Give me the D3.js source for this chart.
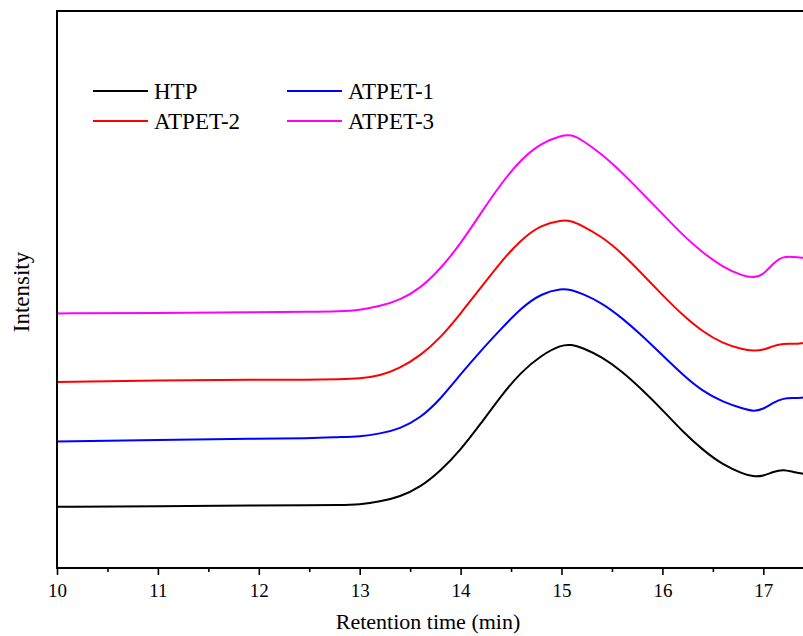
<!DOCTYPE html>
<html>
<head>
<meta charset="utf-8">
<script src="https://cdn.jsdelivr.net/npm/d3@7"></script>
<style>
  html, body { margin: 0; padding: 0; background: #fff; }
  svg { display: block; }
  text { font-family: "Liberation Serif", "Times New Roman", serif; fill: #000; }
</style>
</head>
<body>
<svg id="chart" width="803" height="636"></svg>
<script>
// Retention times (min) shared by all GPC traces
const retentionTime = [10, 11, 12, 12.5, 12.8, 13.0, 13.2, 13.4, 13.6, 13.8,
  14.0, 14.2, 14.4, 14.6, 14.8, 15.0, 15.1, 15.2, 15.4, 15.6, 15.8, 16.0,
  16.2, 16.4, 16.6, 16.8, 16.9, 17.0, 17.1, 17.2, 17.3, 17.4];

// Detector intensity (a.u., traces stacked with a vertical offset)
const htp = [11.0, 11.1, 11.2, 11.3, 11.3, 11.4, 11.9, 12.8, 14.5, 17.4,
  21.2, 25.9, 30.9, 35.2, 38.2, 40.1, 40.1, 39.6, 37.9, 35.3, 32.0, 28.4,
  24.5, 21.2, 18.5, 16.9, 16.4, 16.5, 17.3, 17.7, 17.2, 16.9];
const atpet1 = [22.7, 23.0, 23.2, 23.3, 23.5, 23.6, 24.1, 25.0, 26.9, 30.3,
  34.8, 39.0, 42.9, 46.7, 49.3, 50.2, 49.9, 49.3, 47.6, 44.9, 41.7, 38.2,
  34.7, 31.7, 29.8, 28.6, 28.1, 28.5, 29.7, 30.5, 30.5, 30.6];
const atpet2 = [33.4, 33.7, 33.8, 33.8, 33.9, 34.0, 34.5, 35.9, 38.1, 41.3,
  45.7, 50.3, 55.0, 59.0, 61.6, 62.5, 62.3, 61.5, 59.5, 56.5, 52.8, 49.0,
  45.4, 42.4, 40.3, 39.2, 39.0, 39.1, 39.9, 40.3, 40.2, 40.4];
const atpet3 = [45.7, 45.8, 45.9, 46.0, 46.1, 46.3, 47.0, 48.1, 50.2, 53.7,
  58.2, 63.7, 69.0, 73.4, 76.3, 77.7, 77.8, 76.9, 74.3, 71.0, 67.3, 63.6,
  59.8, 56.6, 54.0, 52.4, 52.1, 52.6, 54.8, 56.0, 55.8, 55.7];

const seriesNames = ["HTP", "ATPET-1", "ATPET-2", "ATPET-3"];
const seriesColors = ["#000000", "#0000ff", "#ff0000", "#ff00ff"];
const seriesValues = [htp, atpet1, atpet2, atpet3];

const xMajorTicks = [10, 11, 12, 13, 14, 15, 16, 17];
const xMinorTicks = [10.5, 11.5, 12.5, 13.5, 14.5, 15.5, 16.5, 17.5];

(function draw() {
  const svg = d3.select("#chart");
  const plotLeft = 57, plotTop = 11, plotBottom = 568;
  const x = d3.scaleLinear().domain([10, 17.5]).range([plotLeft, plotLeft + 7.5 * 100.9]);
  const y = d3.scaleLinear().domain([0, 100]).range([plotBottom, plotTop]);
  const plotRight = x.range()[1];

  svg.append("defs").append("clipPath").attr("id", "plot-clip")
    .append("rect").attr("x", plotLeft).attr("y", plotTop)
    .attr("width", plotRight - plotLeft).attr("height", plotBottom - plotTop);

  // traces (smoothed B-spline through the sampled intensities)
  const line = d3.line()
    .x(d => x(d[0]))
    .y(d => y(d[1]))
    .curve(d3.curveBasis);

  const traces = svg.append("g").attr("clip-path", "url(#plot-clip)");
  seriesValues.forEach((vals, i) => {
    traces.append("path")
      .datum(retentionTime.map((t, j) => [t, vals[j]]))
      .attr("fill", "none")
      .attr("stroke", seriesColors[i])
      .attr("stroke-width", 2)
      .attr("stroke-linejoin", "round")
      .attr("d", line);
  });

  // frame
  svg.append("rect")
    .attr("x", plotLeft).attr("y", plotTop)
    .attr("width", plotRight - plotLeft).attr("height", plotBottom - plotTop)
    .attr("fill", "none").attr("stroke", "#000").attr("stroke-width", 2);

  // bottom axis: major and minor ticks, outward
  const xAxis = d3.axisBottom(x).tickValues(xMajorTicks).tickSize(7).tickPadding(9)
    .tickFormat(d3.format("d"));
  const gx = svg.append("g").attr("transform", `translate(0,${plotBottom})`).call(xAxis);
  gx.select(".domain").remove();
  gx.selectAll(".tick line").attr("stroke-width", 1.6);
  gx.selectAll(".tick text").style("font-size", "19px")
    .style("font-family", "'Liberation Serif', serif");

  const gxMinor = svg.append("g").attr("transform", `translate(0,${plotBottom})`)
    .call(d3.axisBottom(x).tickValues(xMinorTicks).tickSize(4).tickFormat(""));
  gxMinor.select(".domain").remove();
  gxMinor.selectAll(".tick line").attr("stroke-width", 1.6);

  // axis titles
  svg.append("text")
    .attr("x", 428).attr("y", 629)
    .attr("text-anchor", "middle")
    .style("font-size", "22px")
    .text("Retention time (min)");

  svg.append("text")
    .attr("transform", "translate(29,292) rotate(-90)")
    .attr("text-anchor", "middle")
    .style("font-size", "23px")
    .text("Intensity");

  // legend (two columns)
  const legendPos = [[93, 91], [287, 91], [93, 121], [287, 121]];
  const legend = svg.append("g");
  seriesNames.forEach((name, k) => {
    const [lx, ly] = legendPos[k];
    legend.append("line")
      .attr("x1", lx).attr("x2", lx + 55)
      .attr("y1", ly).attr("y2", ly)
      .attr("stroke", seriesColors[k]).attr("stroke-width", 2);
    legend.append("text")
      .attr("x", lx + 61).attr("y", ly + 8)
      .style("font-size", "23px")
      .text(name);
  });
})();
</script>
</body>
</html>
